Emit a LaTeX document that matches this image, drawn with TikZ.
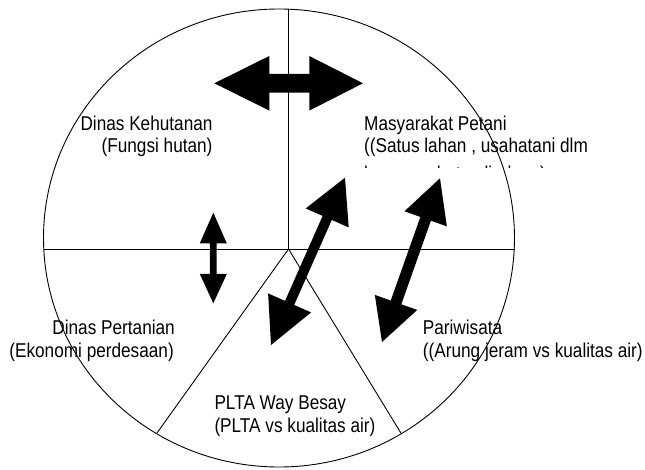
\documentclass[tikz,border=0pt]{standalone}
\usepackage{fontspec}
\setmainfont{Liberation Sans}[FakeStretch=0.86]
\usetikzlibrary{calc}
% #1 tip A, #2 tip B, #3 head length at A, #4 head length at B, #5 head half width, #6 shaft half width
\newcommand{\blockdblarrow}[6]{%
  \fill (#1)
    -- ($(#1)!#3!(#2)!#5!90:(#2)$)
    -- ($(#1)!#3!(#2)!#6!90:(#2)$)
    -- ($(#2)!#4!(#1)!#6!-90:(#1)$)
    -- ($(#2)!#4!(#1)!#5!-90:(#1)$)
    -- (#2)
    -- ($(#2)!#4!(#1)!#5!90:(#1)$)
    -- ($(#2)!#4!(#1)!#6!90:(#1)$)
    -- ($(#1)!#3!(#2)!#6!-90:(#2)$)
    -- ($(#1)!#3!(#2)!#5!-90:(#2)$)
    -- cycle;}
\begin{document}
\begin{tikzpicture}[x=1pt,y=-1pt,
  divline/.style={line width=0.9pt},
  lbl/.style={inner sep=0pt, font=\fontsize{20}{23.4}\selectfont}]
\useasboundingbox (0,0) rectangle (645,470);
% wheel
\coordinate (c) at (288.5,249);
\coordinate (top) at (288.5,9.2);
\coordinate (lft) at (43.5,249);
\coordinate (rgt) at (514.5,249);
\coordinate (bl) at (157,433);
\coordinate (br) at (401.5,434);
\draw[divline] (279,238) ellipse [x radius=235.5pt, y radius=229pt];
\draw[divline] (c) -- (top);
\draw[divline] (lft) -- (rgt);
\draw[divline] (c) -- (bl);
\draw[divline] (c) -- (br);
% labels
\node[lbl, anchor=base east] (dk1) at (212.7,130.8) {Dinas Kehutanan};
\node[lbl, anchor=base east] (dk2) at (212.7,153) {(Fungsi hutan)};
\node[lbl, anchor=base west] (mp1) at (364,130.8) {Masyarakat Petani};
\node[lbl, anchor=base west] (mp2) at (364,153) {((Satus lahan , usahatani dlm};
\begin{scope}
  \clip (355,150) rectangle (600,168);
  \node[lbl, anchor=base west] (mp3) at (364,181) {kawasan hutan lindung)};
\end{scope}
\node[lbl, anchor=base east] (dp1) at (175,334.2) {Dinas Pertanian};
\node[lbl, anchor=base east] (dp2) at (174,357.6) {(Ekonomi perdesaan)};
\node[lbl, anchor=base west] (pw1) at (422.7,334.2) {Pariwisata};
\node[lbl, anchor=base west] (pw2) at (422.7,357.4) {((Arung jeram vs kualitas air)};
\node[lbl, anchor=base west] (pl1) at (214.3,409.3) {PLTA Way Besay};
\node[lbl, anchor=base west] (pl2) at (214.3,432.7) {(PLTA vs kualitas air)};
% block arrows
\coordinate (h1) at (214.3,83.3);
\coordinate (h2) at (363,83.3);
\blockdblarrow{h1}{h2}{55pt}{53.7pt}{27.3pt}{9.3pt}
\coordinate (v1) at (213.3,212.7);
\coordinate (v2) at (213.3,303.3);
\blockdblarrow{v1}{v2}{30.6pt}{29.3pt}{13.5pt}{3.4pt}
\coordinate (d1) at (345,177.7);
\coordinate (d2) at (271,345);
\blockdblarrow{d1}{d2}{44pt}{46pt}{23.5pt}{5pt}
\coordinate (e1) at (440,178.3);
\coordinate (e2) at (382,342);
\blockdblarrow{e1}{e2}{43pt}{42pt}{22.5pt}{5.6pt}
\end{tikzpicture}
\end{document}
